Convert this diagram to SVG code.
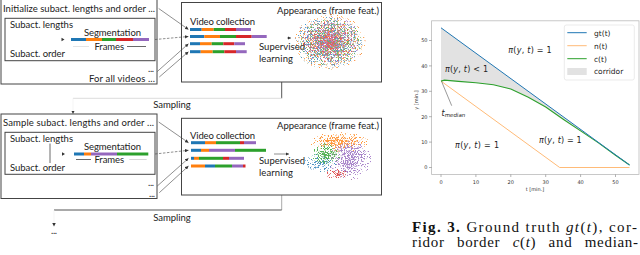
<svg xmlns="http://www.w3.org/2000/svg" width="640" height="255" viewBox="0 0 640 255">
<style>
.t{font-family:Lato,"Liberation Sans",sans-serif;font-size:9.5px;fill:#222}
.box{fill:none;stroke:#444;stroke-width:1}
.ln{stroke:#444;stroke-width:0.6;fill:none}
.bar{stroke-width:3;fill:none}
.m{font-family:"DejaVu Sans",sans-serif;font-size:8px;fill:#222}
.tk{font-family:"DejaVu Sans",sans-serif;font-size:5px;fill:#333}
.lg{font-family:"DejaVu Sans",sans-serif;font-size:7.5px;fill:#222}
.cap{font-family:"Liberation Serif",serif;font-size:15px;fill:#111}
.i{font-style:italic}
</style>
<defs>
<marker id="ah" viewBox="0 0 6 6" refX="6" refY="3" markerUnits="userSpaceOnUse" markerWidth="3.5" markerHeight="3.5" orient="auto"><path d="M0,0 L6,3 L0,6 z" fill="#333"/></marker>
<radialGradient id="gB"><stop offset="0" stop-color="#1f77b4"/><stop offset="1" stop-color="#1f77b4" stop-opacity="0"/></radialGradient>
<radialGradient id="gO"><stop offset="0" stop-color="#ff7f0e"/><stop offset="1" stop-color="#ff7f0e" stop-opacity="0"/></radialGradient>
<radialGradient id="gG"><stop offset="0" stop-color="#2ca02c"/><stop offset="1" stop-color="#2ca02c" stop-opacity="0"/></radialGradient>
<radialGradient id="gR"><stop offset="0" stop-color="#d62728"/><stop offset="1" stop-color="#d62728" stop-opacity="0"/></radialGradient>
<radialGradient id="gP"><stop offset="0" stop-color="#9467bd"/><stop offset="1" stop-color="#9467bd" stop-opacity="0"/></radialGradient>
<filter id="s1" x="-5%" y="-5%" width="110%" height="110%" color-interpolation-filters="sRGB"><feTurbulence type="fractalNoise" baseFrequency="1.3" seed="3" result="n"/><feColorMatrix in="n" values="0 0 0 0 0 0 0 0 0 0 0 0 0 0 0 1 0 0 0 0" result="c"/><feComposite in="c" in2="SourceAlpha" operator="arithmetic" k2="12" k3="2" k4="-7.5" result="k"/><feColorMatrix in="SourceGraphic" values="1 0 0 0 0 0 1 0 0 0 0 0 1 0 0 0 0 0 60 0" result="s"/><feComposite in="s" in2="k" operator="in"/></filter>
<filter id="s2" x="-5%" y="-5%" width="110%" height="110%" color-interpolation-filters="sRGB"><feTurbulence type="fractalNoise" baseFrequency="1.3" seed="3" result="n"/><feColorMatrix in="n" values="0 0 0 0 0 0 0 0 0 0 0 0 0 0 0 0 1 0 0 0" result="c"/><feComposite in="c" in2="SourceAlpha" operator="arithmetic" k2="12" k3="2" k4="-7.5" result="k"/><feColorMatrix in="SourceGraphic" values="1 0 0 0 0 0 1 0 0 0 0 0 1 0 0 0 0 0 60 0" result="s"/><feComposite in="s" in2="k" operator="in"/></filter>
<filter id="s3" x="-5%" y="-5%" width="110%" height="110%" color-interpolation-filters="sRGB"><feTurbulence type="fractalNoise" baseFrequency="1.3" seed="3" result="n"/><feColorMatrix in="n" values="0 0 0 0 0 0 0 0 0 0 0 0 0 0 0 0 0 1 0 0" result="c"/><feComposite in="c" in2="SourceAlpha" operator="arithmetic" k2="12" k3="2" k4="-7.5" result="k"/><feColorMatrix in="SourceGraphic" values="1 0 0 0 0 0 1 0 0 0 0 0 1 0 0 0 0 0 60 0" result="s"/><feComposite in="s" in2="k" operator="in"/></filter>
<filter id="s4" x="-5%" y="-5%" width="110%" height="110%" color-interpolation-filters="sRGB"><feTurbulence type="fractalNoise" baseFrequency="1.3" seed="11" result="n"/><feColorMatrix in="n" values="0 0 0 0 0 0 0 0 0 0 0 0 0 0 0 1 0 0 0 0" result="c"/><feComposite in="c" in2="SourceAlpha" operator="arithmetic" k2="12" k3="2" k4="-7.5" result="k"/><feColorMatrix in="SourceGraphic" values="1 0 0 0 0 0 1 0 0 0 0 0 1 0 0 0 0 0 60 0" result="s"/><feComposite in="s" in2="k" operator="in"/></filter>
<filter id="s5" x="-5%" y="-5%" width="110%" height="110%" color-interpolation-filters="sRGB"><feTurbulence type="fractalNoise" baseFrequency="1.3" seed="11" result="n"/><feColorMatrix in="n" values="0 0 0 0 0 0 0 0 0 0 0 0 0 0 0 0 1 0 0 0" result="c"/><feComposite in="c" in2="SourceAlpha" operator="arithmetic" k2="12" k3="2" k4="-7.5" result="k"/><feColorMatrix in="SourceGraphic" values="1 0 0 0 0 0 1 0 0 0 0 0 1 0 0 0 0 0 60 0" result="s"/><feComposite in="s" in2="k" operator="in"/></filter>
</defs>
<rect width="640" height="255" fill="#fff"/>

<g id="connectors">
  <line class="ln" x1="158.7" y1="8.5" x2="188.5" y2="29.5" marker-end="url(#ah)"/>
  <line class="ln" x1="155" y1="39.5" x2="188.5" y2="36.5" stroke-dasharray="2.5,1.5" marker-end="url(#ah)"/>
  <line class="ln" x1="157.3" y1="71.5" x2="188.5" y2="43.7" marker-end="url(#ah)"/>
  <line class="ln" x1="159.3" y1="77" x2="188.5" y2="51.7" marker-end="url(#ah)"/>
  <line class="ln" x1="158.7" y1="122" x2="188.5" y2="142.7" marker-end="url(#ah)"/>
  <line class="ln" x1="155" y1="154" x2="188.5" y2="150.3" stroke-dasharray="2.5,1.5" marker-end="url(#ah)"/>
  <line class="ln" x1="157.3" y1="186" x2="188.5" y2="158.3" marker-end="url(#ah)"/>
  <line class="ln" x1="159.3" y1="192.7" x2="188.5" y2="166" marker-end="url(#ah)"/>
  <line class="ln" x1="287" y1="38" x2="291" y2="38" marker-end="url(#ah)"/>
  <line class="ln" x1="274" y1="154" x2="289" y2="154" marker-end="url(#ah)"/>
  <line x1="281.7" y1="82" x2="281.7" y2="98.3" stroke="#555" stroke-width="1"/>
  <line x1="73" y1="98.3" x2="281.7" y2="98.3" stroke="#ddd" stroke-width="1"/>
  <line x1="73" y1="98.3" x2="73" y2="114" stroke="#eee" stroke-width="0.6" marker-end="url(#ah)"/>
  <line x1="281.7" y1="195" x2="281.7" y2="210" stroke="#aaa" stroke-width="1"/>
  <line x1="54" y1="210" x2="281.7" y2="210" stroke="#555" stroke-width="1"/>
  <line x1="54" y1="210" x2="54" y2="226.5" stroke="#eee" stroke-width="0.6" marker-end="url(#ah)"/>
</g>

<g id="init-box">
  <rect class="box" x="1" y="-2" width="156" height="86"/>
  <text class="t" x="3" y="12" textLength="152">Initialize subact. lengths and order ...</text>
  <rect class="box" x="5" y="18.3" width="150" height="42.4"/>
  <text class="t" x="10" y="27.5" textLength="63">Subact. lengths</text>
  <text class="t" x="10" y="56.5" textLength="55">Subact. order</text>
  <text class="t" x="84" y="35.5" textLength="57">Segmentation</text>
  <path d="M61.5,37.8 L64.5,39.5 L61.5,41.2 z" fill="#333"/>
  <line class="bar" x1="71" y1="39.5" x2="86" y2="39.5" stroke="#1f77b4"/>
  <line class="bar" x1="86" y1="39.5" x2="102" y2="39.5" stroke="#ff7f0e"/>
  <line class="bar" x1="102" y1="39.5" x2="116" y2="39.5" stroke="#2ca02c"/>
  <line class="bar" x1="116" y1="39.5" x2="133" y2="39.5" stroke="#d62728"/>
  <line class="bar" x1="133" y1="39.5" x2="149" y2="39.5" stroke="#9467bd"/>
  <line x1="73" y1="46.5" x2="89" y2="46.5" stroke="#ddd" stroke-width="0.8"/>
  <text class="t" x="94.5" y="49.5" textLength="29.5">Frames</text>
  <line x1="127" y1="46.5" x2="146" y2="46.5" stroke="#444" stroke-width="0.8"/>
  <text class="t" x="148" y="72" textLength="6">...</text>
  <text class="t" x="89" y="81.5" textLength="66">For all videos ...</text>
</g>

<g id="video-collection-top">
  <rect class="box" x="181.5" y="2.5" width="200" height="79.5"/>
  <text class="t" x="277" y="13.5" textLength="102">Appearance (frame feat.)</text>
  <text class="t" x="190" y="24.5" textLength="65">Video collection</text>
  <g class="bar">
    <line x1="190" y1="29.5" x2="201.7" y2="29.5" stroke="#1f77b4"/><line x1="201.7" y1="29.5" x2="213.7" y2="29.5" stroke="#ff7f0e"/><line x1="213.7" y1="29.5" x2="225" y2="29.5" stroke="#2ca02c"/><line x1="225" y1="29.5" x2="236" y2="29.5" stroke="#d62728"/><line x1="236" y1="29.5" x2="251" y2="29.5" stroke="#9467bd"/>
    <line x1="190" y1="36.5" x2="204.3" y2="36.5" stroke="#1f77b4"/><line x1="204.3" y1="36.5" x2="220" y2="36.5" stroke="#ff7f0e"/><line x1="220" y1="36.5" x2="236" y2="36.5" stroke="#2ca02c"/><line x1="236" y1="36.5" x2="251.7" y2="36.5" stroke="#d62728"/><line x1="251.7" y1="36.5" x2="266.7" y2="36.5" stroke="#9467bd"/>
    <line x1="190" y1="43.7" x2="200" y2="43.7" stroke="#1f77b4"/><line x1="200" y1="43.7" x2="211.7" y2="43.7" stroke="#ff7f0e"/><line x1="211.7" y1="43.7" x2="223.3" y2="43.7" stroke="#2ca02c"/><line x1="223.3" y1="43.7" x2="234.3" y2="43.7" stroke="#d62728"/><line x1="234.3" y1="43.7" x2="245" y2="43.7" stroke="#9467bd"/>
    <line x1="190" y1="51.7" x2="200.7" y2="51.7" stroke="#1f77b4"/><line x1="200.7" y1="51.7" x2="212.7" y2="51.7" stroke="#ff7f0e"/><line x1="212.7" y1="51.7" x2="224.3" y2="51.7" stroke="#2ca02c"/><line x1="224.3" y1="51.7" x2="236" y2="51.7" stroke="#d62728"/><line x1="236" y1="51.7" x2="246.7" y2="51.7" stroke="#9467bd"/>
  </g>
  <text class="t" x="259" y="49.5" textLength="46">Supervised</text>
  <text class="t" x="259" y="62" textLength="34">learning</text>
  <g opacity="0.72">
    <ellipse cx="330" cy="42" rx="36" ry="28" fill="url(#gO)" filter="url(#s1)"/>
    <ellipse cx="328" cy="43" rx="34" ry="26" fill="url(#gB)" filter="url(#s2)"/>
    <ellipse cx="331" cy="42" rx="31" ry="24" fill="url(#gG)" filter="url(#s3)"/>
    <ellipse cx="332" cy="41" rx="31" ry="24" fill="url(#gP)" filter="url(#s4)"/>
    <ellipse cx="330" cy="42" rx="28" ry="21" fill="url(#gR)" filter="url(#s5)"/>
  </g>
</g>

<g id="sampling-1">
  <text class="t" x="153.3" y="107.5" textLength="37.5">Sampling</text>
</g>

<g id="sample-box">
  <rect class="box" x="1" y="114" width="156" height="84.5"/>
  <text class="t" x="3" y="125.5" textLength="151">Sample subact. lengths and order ...</text>
  <rect class="box" x="5" y="132.3" width="150" height="42"/>
  <text class="t" x="10" y="142" textLength="63">Subact. lengths</text>
  <line x1="50" y1="143.5" x2="50" y2="163" stroke="#444" stroke-width="0.8"/>
  <text class="t" x="10" y="170.5" textLength="55">Subact. order</text>
  <text class="t" x="84" y="149.5" textLength="57">Segmentation</text>
  <path d="M62,152.3 L65,154 L62,155.7 z" fill="#333"/>
  <line class="bar" x1="74" y1="154" x2="84" y2="154" stroke="#1f77b4"/>
  <line class="bar" x1="84" y1="154" x2="91" y2="154" stroke="#ff7f0e"/>
  <line class="bar" x1="91" y1="154" x2="117" y2="154" stroke="#9467bd"/>
  <line class="bar" x1="117" y1="154" x2="148.3" y2="154" stroke="#2ca02c"/>
  <line x1="76" y1="159.5" x2="91" y2="159.5" stroke="#444" stroke-width="0.8"/>
  <text class="t" x="94.5" y="162.5" textLength="29.5">Frames</text>
  <line x1="129.3" y1="159.5" x2="146.7" y2="159.5" stroke="#ccc" stroke-width="0.8"/>
  <text class="t" x="148" y="186" textLength="6">...</text>
  <text class="t" x="149" y="197" textLength="6">...</text>
</g>

<g id="video-collection-bottom">
  <rect class="box" x="181.5" y="118.3" width="200" height="76.7"/>
  <text class="t" x="277" y="129" textLength="102">Appearance (frame feat.)</text>
  <text class="t" x="190" y="138.5" textLength="65">Video collection</text>
  <g class="bar">
    <line x1="191" y1="142.7" x2="205" y2="142.7" stroke="#1f77b4"/><line x1="205" y1="142.7" x2="216" y2="142.7" stroke="#ff7f0e"/><line x1="216" y1="142.7" x2="240" y2="142.7" stroke="#2ca02c"/><line x1="240" y1="142.7" x2="244" y2="142.7" stroke="#d62728"/><line x1="244" y1="142.7" x2="256" y2="142.7" stroke="#9467bd"/>
    <line x1="191" y1="150.3" x2="201" y2="150.3" stroke="#1f77b4"/><line x1="201" y1="150.3" x2="209" y2="150.3" stroke="#ff7f0e"/><line x1="209" y1="150.3" x2="235" y2="150.3" stroke="#9467bd"/><line x1="235" y1="150.3" x2="266" y2="150.3" stroke="#2ca02c"/>
    <line x1="191" y1="158.3" x2="194" y2="158.3" stroke="#1f77b4"/><line x1="194" y1="158.3" x2="199" y2="158.3" stroke="#ff7f0e"/><line x1="199" y1="158.3" x2="223" y2="158.3" stroke="#2ca02c"/><line x1="223" y1="158.3" x2="229" y2="158.3" stroke="#d62728"/><line x1="229" y1="158.3" x2="244" y2="158.3" stroke="#9467bd"/>
    <line x1="191" y1="166" x2="205" y2="166" stroke="#ff7f0e"/><line x1="205" y1="166" x2="215" y2="166" stroke="#1f77b4"/><line x1="215" y1="166" x2="232" y2="166" stroke="#2ca02c"/><line x1="232" y1="166" x2="243" y2="166" stroke="#9467bd"/><line x1="243" y1="166" x2="245.5" y2="166" stroke="#d62728"/>
  </g>
  <text class="t" x="259" y="163.5" textLength="46">Supervised</text>
  <text class="t" x="259" y="175.5" textLength="34">learning</text>
  <g opacity="0.8">
    <ellipse cx="340" cy="142" rx="30" ry="10" fill="url(#gO)" filter="url(#s1)"/>
    <ellipse cx="338" cy="141" rx="22" ry="7" fill="url(#gO)" filter="url(#s3)"/>
    <ellipse cx="350" cy="160" rx="22" ry="20" fill="url(#gP)" filter="url(#s4)"/>
    <ellipse cx="350" cy="158" rx="16" ry="16" fill="url(#gP)" filter="url(#s2)"/>
    <ellipse cx="320" cy="163" rx="17" ry="9" fill="url(#gB)" filter="url(#s2)"/>
    <ellipse cx="326" cy="154" rx="15" ry="11" fill="url(#gG)" filter="url(#s3)"/>
    <ellipse cx="326" cy="153" rx="12" ry="9" fill="url(#gG)" filter="url(#s5)"/>
    <ellipse cx="337" cy="174" rx="12" ry="5" fill="url(#gR)" filter="url(#s5)"/>
  </g>
</g>

<g id="sampling-2">
  <text class="t" x="153.3" y="221" textLength="37.5">Sampling</text>
  <text class="t" x="51" y="234" textLength="6">...</text>
</g>

<g id="plot">
  <rect x="431.6" y="20.8" width="207.4" height="153.7" fill="#fff" stroke="#bbb" stroke-width="0.8"/>
  <polygon points="441,27.8 629.5,165 615.5,155.3 598.1,142.6 580.6,130.9 563.2,119.2 545.7,107 528.3,97.2 510.8,89 493.4,84.7 475.9,82.7 458.5,81.4 444.5,80.1 441,81.1" fill="#e2e2e2"/>
  <polyline points="441,81.1 559.7,167.5 629.5,167.5" fill="none" stroke="#ffbb78" stroke-width="1"/>
  <polyline points="441,81.1 444.5,80.1 458.5,81.4 475.9,82.7 493.4,84.7 510.8,89 528.3,97.2 545.7,107 563.2,119.2 580.6,130.9 598.1,142.6 615.5,155.3 629.5,165" fill="none" stroke="#2ca02c" stroke-width="1.1"/>
  <line x1="441" y1="27.8" x2="629.5" y2="165" stroke="#1f77b4" stroke-width="1"/>
  <g stroke="#666" stroke-width="0.5">
    <line x1="441" y1="174.5" x2="441" y2="177"/><line x1="475.9" y1="174.5" x2="475.9" y2="177"/><line x1="510.8" y1="174.5" x2="510.8" y2="177"/><line x1="545.7" y1="174.5" x2="545.7" y2="177"/><line x1="580.6" y1="174.5" x2="580.6" y2="177"/><line x1="615.5" y1="174.5" x2="615.5" y2="177"/>
    <line x1="429" y1="167.5" x2="431.6" y2="167.5"/><line x1="429" y1="142.1" x2="431.6" y2="142.1"/><line x1="429" y1="116.7" x2="431.6" y2="116.7"/><line x1="429" y1="91.3" x2="431.6" y2="91.3"/><line x1="429" y1="65.9" x2="431.6" y2="65.9"/><line x1="429" y1="40.5" x2="431.6" y2="40.5"/>
  </g>
  <g class="tk" text-anchor="middle">
    <text x="441" y="183.5">0</text><text x="475.9" y="183.5">10</text><text x="510.8" y="183.5">20</text><text x="545.7" y="183.5">30</text><text x="580.6" y="183.5">40</text><text x="615.5" y="183.5">50</text>
    <text x="535" y="191">t [min.]</text>
  </g>
  <g class="tk" text-anchor="end">
    <text x="427.5" y="169.3">0</text><text x="427.5" y="143.9">10</text><text x="427.5" y="118.5">20</text><text x="427.5" y="93.1">30</text><text x="427.5" y="67.7">40</text><text x="427.5" y="42.3">50</text>
  </g>
  <text class="tk" text-anchor="middle" transform="translate(418 100) rotate(-90)">y [min.]</text>
  <line x1="441.7" y1="81.7" x2="451.7" y2="105.7" stroke="#555" stroke-width="0.6"/>
  <text class="m" x="441.5" y="115.5"><tspan class="i">t</tspan><tspan class="i" font-size="5.5" dy="1.5">median</tspan></text>
  <text class="m" x="508.3" y="53" textLength="43.4"><tspan class="i">π</tspan>(<tspan class="i">y</tspan>, <tspan class="i">t</tspan>) = 1</text>
  <text class="m" x="445" y="71.5" textLength="43"><tspan class="i">π</tspan>(<tspan class="i">y</tspan>, <tspan class="i">t</tspan>) &lt; 1</text>
  <text class="m" x="455" y="147.5" textLength="44"><tspan class="i">π</tspan>(<tspan class="i">y</tspan>, <tspan class="i">t</tspan>) = 1</text>
  <text class="m" x="539" y="142.5" textLength="42.7"><tspan class="i">π</tspan>(<tspan class="i">y</tspan>, <tspan class="i">t</tspan>) = 1</text>
</g>

<g id="legend">
  <rect x="564.3" y="25" width="70" height="55" rx="2" fill="#fff" fill-opacity="0.85" stroke="#ddd" stroke-width="0.6"/>
  <line x1="567.3" y1="32.7" x2="586.7" y2="32.7" stroke="#1f77b4" stroke-width="1"/>
  <text class="lg" x="594" y="35.5">gt(t)</text>
  <line x1="567.3" y1="45.7" x2="586.7" y2="45.7" stroke="#ffbb78" stroke-width="1"/>
  <text class="lg" x="594" y="48.5">n(t)</text>
  <line x1="567.3" y1="58.7" x2="586.7" y2="58.7" stroke="#2ca02c" stroke-width="1"/>
  <text class="lg" x="594" y="61.5">c(t)</text>
  <rect x="567.3" y="68" width="19.4" height="7" fill="#e2e2e2"/>
  <text class="lg" x="594" y="74">corridor</text>
</g>

<g id="caption">
  <text class="cap" x="412" y="232" textLength="225"><tspan font-weight="bold">Fig. 3.</tspan> Ground truth <tspan class="i">gt</tspan>(<tspan class="i">t</tspan>), cor-</text>
  <text class="cap" x="412" y="246.5" textLength="226" word-spacing="8">ridor border <tspan class="i">c</tspan>(<tspan class="i">t</tspan>) and median-</text>
</g>
</svg>
